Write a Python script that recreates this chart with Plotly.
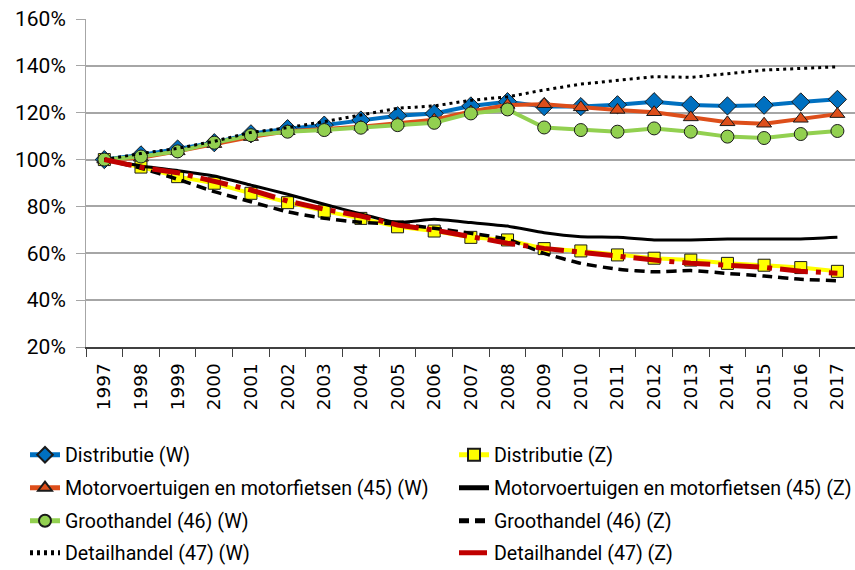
import plotly.graph_objects as go

years = list(range(1997, 2018))
year_labels = [str(y) for y in years]

distributie_w = [100, 102, 104.5, 107.2, 111, 113.2, 114.7, 116.9, 118.7, 119.7, 122.9, 124.7, 122.6, 122.6, 123.4, 124.7, 123.3, 122.9, 123.2, 124.6, 125.7]
distributie_z = [100, 96.8, 92.7, 89.9, 85.6, 81.6, 78.0, 74.9, 71.3, 69.5, 66.8, 65.7, 62.0, 61.0, 59.3, 57.9, 57.1, 55.7, 54.9, 53.9, 52.3]
motor_w = [100, 100.8, 103.5, 106.6, 109.6, 112.1, 113.0, 114.0, 115.5, 117.0, 120.5, 123.3, 123.6, 122.3, 121.2, 120.2, 118.0, 115.9, 115.3, 117.4, 119.4]
motor_z = [100, 97.3, 95.3, 93.0, 89.1, 85.2, 80.9, 76.8, 73.1, 74.5, 73.1, 71.6, 68.8, 67.1, 66.8, 65.7, 65.7, 66.1, 66.1, 66.1, 66.8]
groot_w = [100, 101.3, 103.5, 107.2, 110.4, 111.9, 112.6, 113.6, 114.7, 115.7, 119.7, 121.4, 113.7, 112.6, 111.9, 113.3, 111.9, 109.8, 109.2, 110.9, 112.2]
groot_z = [100, 96.3, 91.6, 86.3, 82.0, 77.7, 74.9, 73.2, 72.5, 70.7, 68.5, 66.0, 60.0, 55.7, 53.2, 52.1, 52.6, 51.4, 50.3, 48.9, 48.3]
detail_w = [100, 102.6, 104.8, 107.8, 111.6, 113.6, 116.2, 119.0, 121.9, 122.9, 125.3, 126.8, 129.7, 132.2, 133.9, 135.4, 135.1, 136.8, 138.2, 138.9, 139.6]
detail_z = [100, 96.7, 94.4, 90.5, 87.0, 82.3, 78.8, 75.9, 72.1, 69.9, 67.1, 64.3, 62.1, 60.7, 58.8, 57.1, 55.7, 54.9, 54.0, 52.3, 51.5]

names = [
    "Distributie (W)", "Distributie (Z)",
    "Motorvoertuigen en motorfietsen (45) (W)", "Motorvoertuigen en motorfietsen (45) (Z)",
    "Groothandel (46) (W)", "Groothandel (46) (Z)",
    "Detailhandel (47) (W)", "Detailhandel (47) (Z)",
]

fig = go.Figure()

outline = dict(color="#1a1a1a", width=1)

series = [
    (distributie_w, dict(color="#0070C0", width=4), dict(symbol="diamond", size=14, color="#0070C0", line=outline), "lines+markers"),
    (distributie_z, dict(color="#FFFF00", width=4), dict(symbol="square", size=12, color="#FFFF00", line=outline), "lines+markers"),
    (motor_w, dict(color="#DD4E1A", width=4), dict(symbol="triangle-up", size=13, color="#DD4E1A", line=outline), "lines+markers"),
    (motor_z, dict(color="#000000", width=3, shape="spline", smoothing=0.5), None, "lines"),
    (groot_w, dict(color="#92D050", width=4), dict(symbol="circle", size=13, color="#92D050", line=outline), "lines+markers"),
    (groot_z, dict(color="#000000", width=3.5, dash="10px,6px", shape="spline", smoothing=0.5), None, "lines"),
    (detail_w, dict(color="#000000", width=3, dash="3px,4px"), None, "lines"),
    (detail_z, dict(color="#C00000", width=5, dash="28px,8px,5px,8px"), None, "lines"),
]

row_y = [455, 488, 521, 553]
legend_pos = []
for i in range(8):
    row, col = divmod(i, 2)
    legend_pos.append((25 if col == 0 else 454, row_y[row]))

for i, (vals, line, marker, mode) in enumerate(series):
    lname = "legend" if i == 0 else f"legend{i+1}"
    kw = dict(x=years, y=vals, name=names[i], mode=mode, line=line, legend=lname)
    if marker is not None:
        kw["marker"] = marker
    fig.add_trace(go.Scatter(**kw))

layout_legends = {}
for i, (xp, yp) in enumerate(legend_pos):
    key = "legend" if i == 0 else f"legend{i+1}"
    layout_legends[key] = dict(
        xref="container", yref="container",
        x=xp / 855, y=1 - yp / 570,
        xanchor="left", yanchor="middle",
        font=dict(family="Roboto", size=19.6, color="#000000"),
        bgcolor="rgba(0,0,0,0)",
        borderwidth=0,
        itemsizing="constant",
    )

fig.update_layout(
    width=855, height=570,
    margin=dict(l=86, r=0, t=19, b=223, autoexpand=False),
    plot_bgcolor="white", paper_bgcolor="white",
    font=dict(family="Roboto", size=20, color="#000000"),
    showlegend=True,
    **layout_legends,
)

boundaries = [y - 0.5 for y in years]

fig.update_xaxes(
    range=[1996.5, 2017.48],
    tickvals=years, ticktext=year_labels,
    ticks="", automargin=False,
    minor=dict(tickvals=boundaries, ticks="outside", ticklen=8, tickcolor="#404040", tickwidth=1, showgrid=False),
    showline=True, linecolor="#404040", linewidth=1.5,
    showgrid=False, zeroline=False,
    tickangle=-90,
    ticklabelstandoff=7,
    tickfont=dict(family="DejaVu Sans", size=18.5, color="#000000"),
)

fig.update_yaxes(
    range=[20, 160], dtick=20, ticksuffix="%",
    showgrid=True, gridcolor="#A6A6A6", gridwidth=1.5,
    showline=True, linecolor="#A6A6A6", linewidth=1,
    ticks="outside", ticklen=9, tickcolor="#A6A6A6",
    tickfont=dict(family="Roboto", size=21, color="#000000"),
    zeroline=False, automargin=False,
    ticklabelstandoff=6,
)

fig.write_html(
    "out.html",
    config={"displayModeBar": False},
    post_script="document.body.style.margin='0';document.body.style.padding='0';",
)
